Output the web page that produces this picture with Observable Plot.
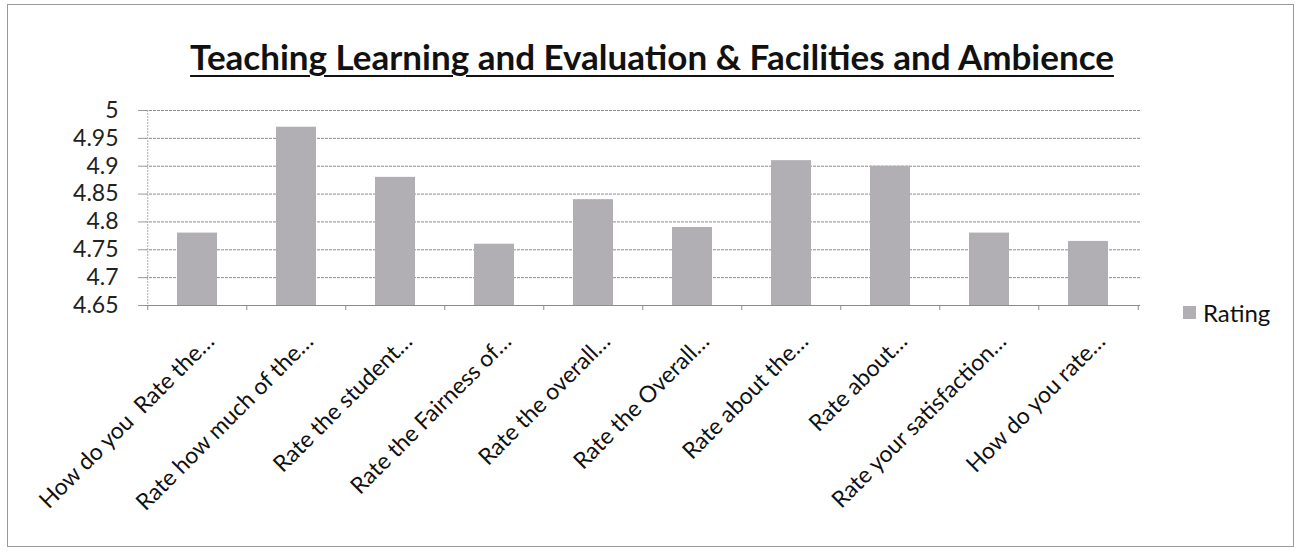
<!DOCTYPE html>
<html>
<head>
<meta charset="utf-8">
<script src="https://cdn.jsdelivr.net/npm/d3@7"></script>
<script src="https://cdn.jsdelivr.net/npm/@observablehq/plot@0.6"></script>
<style>
  html, body { margin: 0; padding: 0; background: #fff; }
  #wrap { position: relative; width: 1300px; height: 551px; overflow: hidden; font-family: Lato, "Open Sans", sans-serif; }
  #border { position: absolute; left: 7px; top: 4px; width: 1287px; height: 543px; border: 1px solid #9a9a9a; box-sizing: border-box; }
  #title { position: absolute; left: 0; top: 36px; width: 1304px; text-align: center; font-size: 35px; line-height: 40px; font-weight: bold; color: #111; text-decoration: underline; text-decoration-thickness: 2px; text-underline-offset: 5px; }
  #chart { position: absolute; left: 0; top: 80px; }
  #chart svg { white-space: pre; }
  #legend { position: absolute; left: 1183px; top: 298px; font-size: 24px; color: #111; display: flex; align-items: center; }
  #legend .sw { width: 13px; height: 13px; margin-right: 7px; }
</style>
</head>
<body>
<div id="wrap">
  <div id="border"></div>
  <div id="title"></div>
  <div id="chart"></div>
  <div id="legend"><span class="sw"></span><span class="lbl"></span></div>
</div>
<script>
const chartTitle = "Teaching Learning and Evaluation & Facilities and Ambience";
const seriesName = "Rating";
const questions = [
  "How do you  Rate the…",
  "Rate how much of the…",
  "Rate the student…",
  "Rate the Fairness of…",
  "Rate the overall…",
  "Rate the Overall…",
  "Rate about the…",
  "Rate about…",
  "Rate your satisfaction…",
  "How do you rate…"
];
const ratings = [4.78, 4.97, 4.88, 4.76, 4.84, 4.79, 4.91, 4.90, 4.78, 4.765];
const yTicks = [4.65, 4.7, 4.75, 4.8, 4.85, 4.9, 4.95, 5];

const barColor = "#b1afb4";
const W = 1300, H = 471, mL = 145, mR = 160, mT = 30, mB = 246;
const step = (W - mL - mR) / questions.length;

const data = questions.map((q, i) => ({q, v: ratings[i]}));
const yMin = yTicks[0];

document.getElementById("title").textContent = chartTitle;
document.querySelector("#legend .lbl").textContent = seriesName;
document.querySelector("#legend .sw").style.background = barColor;

const plot = Plot.plot({
  width: W,
  height: H,
  marginLeft: mL,
  marginRight: mR,
  marginTop: mT,
  marginBottom: mB,
  style: {fontFamily: "Lato, 'Open Sans', sans-serif", background: "transparent", color: "#111"},
  x: {domain: questions, paddingInner: 0.6, paddingOuter: 0.3, label: null},
  y: {domain: [yMin, yTicks[yTicks.length - 1]], label: null},
  marks: [
    Plot.gridY(yTicks, {stroke: "#8c8c8c", strokeOpacity: 1, strokeWidth: 1, strokeDasharray: "3,1"}),
    Plot.barY(data, {x: "q", y1: yMin, y2: "v", fill: barColor}),
    Plot.ruleY([yMin], {stroke: "#8c8c8c", strokeWidth: 1.2}),
    Plot.ruleX([questions[0]], {dx: -step / 2, stroke: "#aaaaaa", strokeDasharray: "2,1"}),
    Plot.axisY(yTicks, {tickSize: 7, tickPadding: 20, stroke: "#9a9a9a", fontSize: 23, tickFormat: d => String(d), fill: "#222"}),
    Plot.axisX(questions, {tickSize: 5, tickFormat: () => "", dx: -step / 2, stroke: "#8c8c8c"}),
    Plot.axisX([questions[questions.length - 1]], {tickSize: 5, tickFormat: () => "", dx: step / 2, stroke: "#8c8c8c"}),
    Plot.axisX(questions, {tickSize: 0, tickRotate: -45, tickPadding: 32, dx: 13, fontSize: 23, fill: "#111", label: null})
  ]
});
document.getElementById("chart").appendChild(plot);
</script>
</body>
</html>
